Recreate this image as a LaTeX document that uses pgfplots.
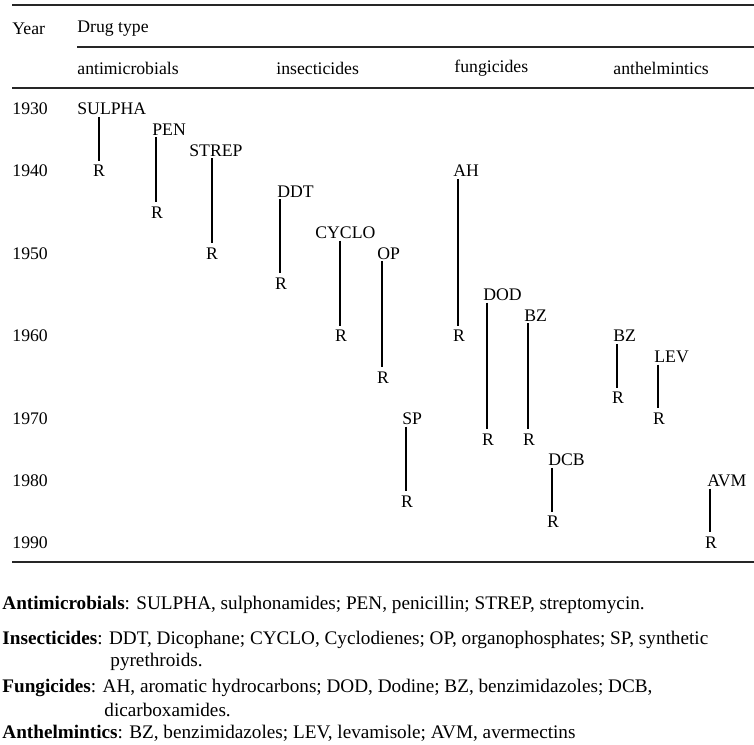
\documentclass[border=0pt]{standalone}
\usepackage{pgfplots}
\pgfplotsset{compat=1.18}
\usepackage{fontspec}
\setmainfont{Liberation Serif}
\begin{document}
\begin{tikzpicture}[
  lab/.style={font=\fontsize{8.85}{10}\selectfont, inner sep=0pt},
  note/.style={font=\fontsize{9.6}{11}\selectfont, inner sep=0pt, anchor=west},
  bar/.style={black, line width=0.7pt},
  rule/.style={black!85, line width=0.8pt}]

  % x: horizontal position (0..754), y: table row (row 0 = 1930)
  \begin{axis}[
    scale only axis,
    width=377pt, height=372pt,
    xmin=0, xmax=754,
    ymin=-5.2785, ymax=30.751,
    y dir=reverse,
    axis line style={draw=none},
    major tick length=0pt,
    xtick=\empty,
    ytick={0,3,7,11,15,18,21},
    yticklabels={1930,1940,1950,1960,1970,1980,1990},
    yticklabel style={anchor=west, xshift=6pt, inner sep=0pt,
      font=\fontsize{8.85}{10}\selectfont},
    clip=false]

    % introduction -> resistance
    \addplot[bar] coordinates {(99,0.38) (99,2.5)};    % SULPHA
    \addplot[bar] coordinates {(156,1.38) (156,4.5)};  % PEN
    \addplot[bar] coordinates {(212,2.38) (212,6.5)};  % STREP
    \addplot[bar] coordinates {(280,4.38) (280,7.95)}; % DDT
    \addplot[bar] coordinates {(340,6.38) (340,10.5)}; % CYCLO
    \addplot[bar] coordinates {(382,7.38) (382,12.5)}; % OP
    \addplot[bar] coordinates {(406,15.38) (406,18.5)};% SP
    \addplot[bar] coordinates {(458,3.38) (458,10.5)}; % AH
    \addplot[bar] coordinates {(487,9.38) (487,15.5)}; % DOD
    \addplot[bar] coordinates {(528,10.38) (528,15.5)};% BZ
    \addplot[bar] coordinates {(552,17.38) (552,19.5)};% DCB
    \addplot[bar] coordinates {(617,11.38) (617,13.5)};% BZ
    \addplot[bar] coordinates {(658,12.38) (658,14.5)};% LEV
    \addplot[bar] coordinates {(710,18.38) (710,20.5)};% AVM

    % rules
    \draw[rule] (axis cs:12,-5.036) -- (axis cs:754,-5.036);
    \draw[rule] (axis cs:77,-3.0) -- (axis cs:754,-3.0);
    \draw[rule] (axis cs:12,-1.017) -- (axis cs:754,-1.017);
    \draw[rule] (axis cs:12,21.94) -- (axis cs:754,21.94);

    % headers
    \node[lab, anchor=west] at (axis cs:12,-3.9) {Year};
    \node[lab, anchor=west] at (axis cs:77,-3.9) {Drug type};
    \node[lab, anchor=west] at (axis cs:77,-1.985) {antimicrobials};
    \node[lab, anchor=west] at (axis cs:276,-1.985) {insecticides};
    \node[lab, anchor=west] at (axis cs:454,-1.985) {fungicides};
    \node[lab, anchor=west] at (axis cs:613,-1.985) {anthelmintics};

    % drug names
    \node[lab, anchor=west] at (axis cs:77,0) {SULPHA};
    \node[lab, anchor=west] at (axis cs:152,1) {PEN};
    \node[lab, anchor=west] at (axis cs:189,2) {STREP};
    \node[lab, anchor=west] at (axis cs:277,4) {DDT};
    \node[lab, anchor=west] at (axis cs:315,6) {CYCLO};
    \node[lab, anchor=west] at (axis cs:377,7) {OP};
    \node[lab, anchor=west] at (axis cs:402,15) {SP};
    \node[lab, anchor=west] at (axis cs:453,3) {AH};
    \node[lab, anchor=west] at (axis cs:483,9) {DOD};
    \node[lab, anchor=west] at (axis cs:524,10) {BZ};
    \node[lab, anchor=west] at (axis cs:548,17) {DCB};
    \node[lab, anchor=west] at (axis cs:613,11) {BZ};
    \node[lab, anchor=west] at (axis cs:654,12) {LEV};
    \node[lab, anchor=west] at (axis cs:707,18) {AVM};

    % resistance
    \node[lab] at (axis cs:99,3) {R};
    \node[lab] at (axis cs:157,5) {R};
    \node[lab] at (axis cs:212,7) {R};
    \node[lab] at (axis cs:281,8.45) {R};
    \node[lab] at (axis cs:341,11) {R};
    \node[lab] at (axis cs:383,13) {R};
    \node[lab] at (axis cs:407,19) {R};
    \node[lab] at (axis cs:459,11) {R};
    \node[lab] at (axis cs:488,16) {R};
    \node[lab] at (axis cs:529,16) {R};
    \node[lab] at (axis cs:553,20) {R};
    \node[lab] at (axis cs:618,14) {R};
    \node[lab] at (axis cs:659,15) {R};
    \node[lab] at (axis cs:711,21) {R};

    % key
    \node[note] at (axis cs:2,24.0) {\textbf{Antimicrobials}: SULPHA, sulphonamides; PEN, penicillin; STREP, streptomycin.};
    \node[note] at (axis cs:2,25.7) {\textbf{Insecticides}: DDT, Dicophane; CYCLO, Cyclodienes; OP, organophosphates; SP, synthetic};
    \node[note] at (axis cs:110,26.78) {pyrethroids.};
    \node[note] at (axis cs:2,28.05) {\textbf{Fungicides}: AH, aromatic hydrocarbons; DOD, Dodine; BZ, benzimidazoles; DCB,};
    \node[note] at (axis cs:104,29.1) {dicarboxamides.};
    \node[note] at (axis cs:2,30.22) {\textbf{Anthelmintics}: BZ, benzimidazoles; LEV, levamisole; AVM, avermectins};
  \end{axis}
  \pgfresetboundingbox
  \path[use as bounding box] (current axis.south west) rectangle (current axis.north east);
\end{tikzpicture}
\end{document}
